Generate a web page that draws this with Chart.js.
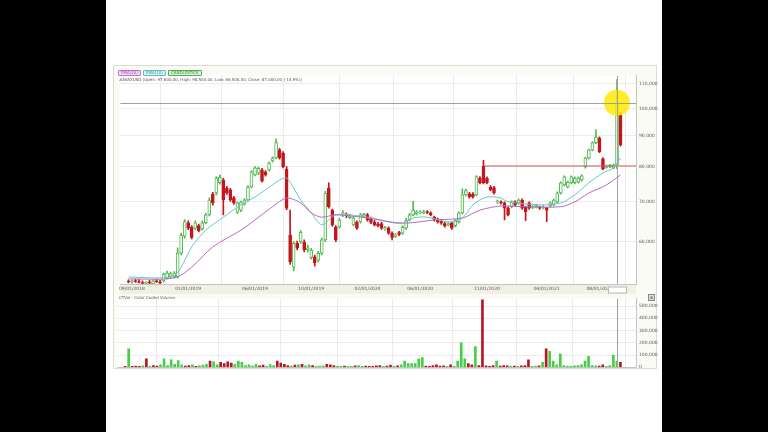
<!DOCTYPE html>
<html>
<head>
<meta charset="utf-8">
<script src="https://cdn.jsdelivr.net/npm/chart.js@4.4.1/dist/chart.umd.min.js"></script>
<style>
    html, body { margin: 0; padding: 0; width: 768px; height: 432px; background: #000; overflow: hidden; font-family: "DejaVu Sans", sans-serif; }
    #page { position: absolute; left: 106px; top: 0; width: 556px; height: 432px; background: #fff; }
    #frame { position: absolute; left: 113px; top: 65px; width: 542px; height: 302px; border: 1px solid #dcdcd2; background: #fbfbf6; }
    #price { position: absolute; left: 117px; top: 70px; }
    #volume { position: absolute; left: 117px; top: 293px; }
    #legend { position: absolute; left: 118px; top: 70px; font-size: 4px; line-height: 4px; white-space: nowrap; }
    #legend span { display: inline-block; padding: 0 2px; margin-right: 2px; border: 1px solid; border-radius: 1px; }
    #ohlc { position: absolute; left: 119px; top: 77px; font-size: 4px; color: #555; white-space: nowrap; }
    #voltitle { position: absolute; left: 119px; top: 295px; font-size: 4px; color: #666; white-space: nowrap; }
    #closebox { position: absolute; left: 648px; top: 294px; width: 5px; height: 5px; border: 1px solid #888; background: #ddd; font-size: 5px; line-height: 5px; text-align: center; color: #333; }
</style>
</head>
<body>
<div id="page"></div>
<div id="frame"></div>
<canvas id="price" width="543" height="224"></canvas>
<canvas id="volume" width="543" height="80"></canvas>
<div id="legend"></div>
<div id="ohlc"></div>
<div id="voltitle">CTVol - Color Coded Volume</div>
<div id="closebox">x</div>
<script>
"use strict";

let Chart = window.Chart;

// prices in thousands, one weekly candle per entry
const openK = [51.5, 51.4, 51.6, 51.5, 51.3, 51.1, 51.4, 51.0, 51.6, 51.4,
    51.6, 52.2, 52.5, 52.4, 52.4, 57.4, 61.3, 64.5, 63.4, 63.2,
    63.8, 63.0, 64.5, 66.5, 72.0, 72.3, 75.2, 76.0, 73.7, 73.2,
    71.0, 67.2, 67.7, 69.3, 70.4, 74.0, 77.5, 78.0, 79.0, 78.4,
    79.0, 81.8, 82.7, 85.3, 84.3, 79.2, 61.5, 54.4, 59.6, 60.0,
    59.9, 58.2, 56.5, 56.6, 55.9, 57.4, 60.4, 73.7, 67.7, 63.4,
    63.5, 66.6, 66.6, 65.8, 64.0, 64.7, 64.7, 66.2, 66.5, 65.5,
    64.7, 64.2, 64.3, 63.0, 63.2, 62.0, 61.2, 62.1, 62.0, 63.2,
    65.2, 66.5, 66.8, 67.0, 67.0, 67.3, 67.0, 65.9, 65.4, 65.0,
    64.3, 64.0, 64.4, 63.8, 64.7, 67.0, 71.8, 72.1, 72.0, 71.8,
    76.6, 80.2, 76.5, 74.0, 73.8, 69.9, 69.8, 69.6, 68.3, 68.6,
    69.9, 69.6, 70.4, 68.5, 69.6, 68.4, 68.6, 68.5, 68.3, 68.2,
    68.8, 69.1, 69.9, 72.3, 74.6, 74.0, 75.2, 75.2, 75.4, 76.0,
    80.0, 82.7, 85.3, 87.7, 89.3, 82.4, 79.8, 80.0, 79.6, 80.5,
    97.6];
const highK = [51.8, 51.8, 51.9, 51.9, 51.6, 51.5, 51.7, 51.8, 51.9, 51.7,
    53.2, 53.6, 53.4, 53.5, 58.6, 62.0, 65.3, 65.0, 63.8, 65.0,
    64.2, 64.9, 66.9, 71.0, 72.5, 77.0, 77.5, 76.5, 74.2, 73.6,
    71.4, 69.9, 70.1, 70.8, 74.4, 78.8, 80.0, 79.9, 79.5, 78.8,
    81.5, 83.1, 89.0, 85.8, 84.8, 80.0, 67.7, 60.0, 60.1, 62.6,
    60.4, 59.2, 58.5, 57.0, 57.8, 60.8, 72.8, 75.2, 68.0, 63.8,
    65.6, 67.6, 67.0, 66.6, 66.1, 65.0, 66.9, 66.9, 66.9, 65.9,
    65.1, 64.6, 64.7, 63.6, 63.5, 62.3, 61.9, 62.4, 63.8, 65.6,
    66.9, 70.0, 67.6, 67.6, 67.7, 67.6, 67.3, 66.2, 65.7, 65.3,
    64.6, 64.6, 64.7, 65.3, 67.3, 73.5, 73.4, 72.5, 72.4, 77.3,
    77.0, 82.0, 76.9, 74.4, 74.2, 70.4, 70.2, 69.9, 68.6, 70.2,
    70.2, 70.7, 70.7, 68.8, 69.9, 68.9, 69.3, 68.8, 68.9, 68.5,
    69.9, 70.7, 72.6, 75.5, 77.2, 75.7, 77.2, 76.9, 76.9, 77.5,
    83.0, 85.6, 88.0, 92.1, 89.7, 82.8, 80.5, 80.7, 80.8, 111.7,
    98.5];
const lowK = [51.2, 51.1, 51.3, 51.2, 50.9, 50.9, 51.0, 50.8, 51.3, 51.0,
    51.4, 52.0, 52.3, 52.2, 52.2, 57.0, 60.8, 62.8, 60.6, 62.8,
    62.3, 62.7, 64.2, 66.2, 69.0, 71.8, 74.8, 66.5, 71.9, 70.0,
    69.2, 66.8, 67.3, 69.0, 70.1, 73.7, 77.2, 77.6, 75.4, 77.1,
    78.6, 81.4, 82.4, 82.3, 79.6, 67.8, 55.0, 53.6, 58.1, 59.6,
    57.7, 57.6, 56.1, 54.6, 55.5, 57.0, 60.0, 68.2, 63.6, 60.0,
    63.2, 66.0, 65.8, 65.5, 63.7, 62.9, 64.4, 65.9, 64.9, 64.3,
    63.7, 63.5, 62.9, 62.7, 61.7, 60.4, 60.9, 61.4, 61.7, 62.9,
    64.9, 66.2, 66.5, 66.7, 66.7, 66.8, 66.2, 64.9, 64.4, 64.1,
    63.4, 63.7, 62.9, 63.5, 64.4, 66.7, 71.5, 70.9, 70.9, 71.5,
    74.9, 74.9, 74.9, 72.9, 72.0, 69.5, 69.3, 65.2, 66.2, 68.3,
    68.8, 69.3, 67.9, 65.0, 67.9, 68.1, 68.3, 67.9, 68.0, 64.8,
    68.5, 68.8, 69.6, 72.0, 74.3, 73.7, 74.9, 74.9, 75.1, 75.7,
    79.5, 82.4, 85.0, 87.4, 84.4, 79.0, 79.5, 79.7, 79.3, 79.4,
    86.5];
const closeK = [51.4, 51.6, 51.5, 51.3, 51.1, 51.4, 51.2, 51.6, 51.4, 51.2,
    53.0, 53.2, 53.1, 53.2, 57.4, 61.5, 64.8, 63.2, 61.0, 64.5,
    62.6, 64.5, 66.5, 70.4, 69.6, 76.6, 76.8, 70.4, 72.3, 70.4,
    69.6, 69.6, 69.8, 70.4, 74.0, 78.4, 79.6, 79.5, 75.7, 77.5,
    81.1, 82.7, 87.7, 82.7, 80.0, 68.2, 55.5, 59.6, 58.5, 62.2,
    58.1, 58.6, 58.1, 55.3, 57.4, 60.4, 72.3, 68.6, 64.0, 60.4,
    65.2, 67.0, 66.3, 66.2, 65.7, 63.2, 66.5, 66.6, 65.2, 64.6,
    64.0, 63.8, 63.2, 63.3, 62.0, 61.0, 61.6, 61.7, 63.4, 65.2,
    66.5, 67.7, 67.2, 67.2, 67.3, 67.1, 66.5, 65.2, 64.7, 64.4,
    63.7, 64.3, 63.2, 65.0, 67.0, 71.8, 73.0, 71.2, 71.2, 76.9,
    75.2, 75.2, 75.2, 73.2, 72.3, 70.1, 69.6, 68.2, 66.5, 69.9,
    69.1, 70.4, 68.2, 67.3, 68.2, 68.6, 69.0, 68.2, 68.6, 67.7,
    69.6, 70.4, 72.3, 75.2, 76.9, 75.4, 76.9, 76.6, 76.6, 77.2,
    82.7, 85.3, 87.7, 89.6, 84.7, 79.3, 80.2, 80.4, 80.5, 102.2,
    87.0];
// volume in thousands
const volumeK = [8, 150, 5, 10, 6, 12, 70, 8, 15, 10,
    20, 70, 15, 60, 25, 55, 20, 10, 15, 20,
    8, 12, 18, 25, 50, 45, 20, 40, 30, 45,
    35, 25, 50, 40, 15, 20, 10, 25, 12, 18,
    8, 22, 15, 50, 35, 25, 15, 10, 18, 20,
    25, 12, 20, 15, 8, 10, 12, 25, 20, 15,
    8, 6, 10, 5, 8, 12, 15, 6, 10, 8,
    5, 12, 15, 6, 10, 18, 8, 12, 20, 50,
    30, 30, 30, 70, 80, 10, 6, 15, 20, 10,
    12, 5, 20, 8, 50, 200, 70, 30, 20, 170,
    15, 550, 12, 8, 15, 50, 10, 15, 12, 6,
    10, 5, 12, 15, 60, 8, 10, 12, 40, 150,
    130, 50, 20, 110, 15, 10, 8, 12, 15, 20,
    50, 90, 15, 12, 10, 20, 8, 15, 100, 50,
    40];

// moving averages read at a few candles
const emaFastIdx = [0, 10, 13, 15, 18, 22, 27, 32, 36, 40, 43, 45, 47, 49, 52, 55, 59, 68, 74, 78,
    81, 85, 91, 95, 98, 102, 106, 108, 117, 123, 127, 131, 135, 138, 140];
const emaFast = [52.4, 52.2, 52.7, 54.4, 58.8, 62.7, 65.9, 69.1, 71.2, 73.9, 76.0, 76.6, 73.7, 70.4, 67.0, 64.0, 66.5, 65.9, 64.7, 64.4,
    65.7, 65.9, 64.7, 65.7, 69.1, 71.2, 70.9, 69.9, 69.1, 69.6, 71.8, 75.2, 78.1, 79.6, 82.7];
const emaSlowIdx = [0, 13, 18, 24, 32, 36, 41, 45, 49, 52, 55, 59, 68, 78, 87, 95, 100, 106, 112, 123,
    127, 131, 136, 140];
const emaSlow = [52.0, 52.2, 54.4, 58.8, 62.7, 65.2, 68.6, 70.9, 69.6, 67.0, 65.9, 66.5, 65.7, 64.4, 65.2, 65.7, 67.7, 68.8, 68.6, 68.6,
    69.9, 72.3, 74.6, 77.5];

const levelStart = 101;
const levelK = 80.2;
const cursorIdx = 139;

const dateIdx = [1, 17, 36, 52, 68, 83, 102, 119, 134];
const dateLabels = ['09/01/2018', '01/01/2019', '06/01/2019', '10/01/2019', '02/01/2020',
    '06/01/2020', '11/01/2020', '04/01/2021', '08/01/2021'];
const priceTicks = [60, 70, 80, 90, 100, 110];
const volumeTicks = [0, 100, 200, 300, 400, 500];

const xMin = -2.3;
const xMax = 144.4;
const upLine = '#52b852';
const upFill = '#f6fff4';
const downCol = '#c4161c';
const gridCol = '#ebebeb';
const tickFont = { size: 4.5, family: 'DejaVu Sans' };

function fmt(v) {
    return (v * 1000).toLocaleString('en-US');
}

function isUp(i) {
    return closeK[i] >= openK[i];
}

// header: legend items and last candle values
document.getElementById('legend').innerHTML =
    '<span style="border-color:#c070c8;background:#f3dcf5;color:#a050a8">EMA(20)</span>' +
    '<span style="border-color:#60c0c0;background:#dcf3f3;color:#409898">EMA(10)</span>' +
    '<span style="border-color:#50b050;background:#dff3dc;color:#308830">CANDLESTICK</span>';
(function () {
    const n = closeK.length - 1;
    const pct = (closeK[n] - closeK[n - 1]) / closeK[n - 1] * 100;
    const f2 = v => (v * 1000).toLocaleString('en-US', { minimumFractionDigits: 2 });
    document.getElementById('ohlc').textContent = '#AVAXUSD (Open: ' + f2(openK[n]) + ', High: ' + f2(highK[n]) +
        ', Low: ' + f2(lowK[n]) + ', Close: ' + f2(closeK[n]) + ' (' + pct.toFixed(1) + '%))';
})();

const bandPlugin = {
    id: 'band',
    beforeDraw(chart) {
        const a = chart.chartArea, ctx = chart.ctx;
        ctx.save();
        ctx.fillStyle = '#ffffff';
        ctx.fillRect(a.left, a.top, a.right - a.left, a.bottom - a.top);
        if (chart.canvas.id === 'price') {
            ctx.fillStyle = '#f2f0e4';
            ctx.fillRect(a.left, a.bottom, a.right - a.left, 10);
        }
        ctx.restore();
    },
    afterDatasetsDraw(chart) {
        const a = chart.chartArea, ctx = chart.ctx;
        const xp = Math.round(chart.scales.x.getPixelForValue(cursorIdx)) + 0.5;
        ctx.save();
        ctx.strokeStyle = '#a0a0a0';
        ctx.lineWidth = 1;
        ctx.beginPath();
        ctx.moveTo(xp, a.top);
        ctx.lineTo(xp, a.bottom);
        if (chart.canvas.id === 'price') {
            const yp = Math.round(chart.scales.y.getPixelForValue(closeK[cursorIdx])) + 0.5;
            ctx.moveTo(a.left, yp);
            ctx.lineTo(a.right, yp);
            ctx.stroke();
            ctx.fillStyle = '#ffffff';
            ctx.strokeStyle = '#b8b8b8';
            ctx.fillRect(xp - 9, a.bottom + 3, 18, 6);
            ctx.strokeRect(xp - 9, a.bottom + 3, 18, 6);
        } else {
            ctx.stroke();
        }
        ctx.restore();
    }
};

function xScale(showTicks) {
    return {
        type: 'linear',
        min: xMin,
        max: xMax,
        offset: false,
        afterBuildTicks: s => { s.ticks = dateIdx.map(v => ({ value: v })); },
        afterFit: s => { s.height = showTicks ? 10 : 2; },
        ticks: {
            display: showTicks,
            autoSkip: false,
            maxRotation: 0,
            font: tickFont,
            color: '#555',
            padding: 2,
            callback: (v, i) => dateLabels[i]
        },
        grid: { color: gridCol, drawTicks: false },
        border: { color: '#c4c4c4' }
    };
}

const idx = openK.map((o, i) => i);

new Chart(document.getElementById('price'), {
    type: 'bar',
    data: {
        datasets: [
            {
                type: 'line',
                data: [{ x: cursorIdx, y: closeK[cursorIdx] }],
                showLine: false,
                pointRadius: 13,
                pointBackgroundColor: 'rgba(255, 234, 0, 0.85)',
                pointBorderWidth: 0,
                order: 0
            },
            {
                type: 'line',
                data: emaSlowIdx.map((x, i) => ({ x, y: emaSlow[i] })),
                borderColor: '#b86cc0',
                borderWidth: 1,
                pointRadius: 0,
                tension: 0.3,
                order: 1
            },
            {
                type: 'line',
                data: emaFastIdx.map((x, i) => ({ x, y: emaFast[i] })),
                borderColor: '#6cc6c6',
                borderWidth: 1,
                pointRadius: 0,
                tension: 0.3,
                order: 1
            },
            {
                type: 'line',
                data: [{ x: levelStart, y: levelK }, { x: xMax, y: levelK }],
                borderColor: '#c85a5a',
                borderWidth: 1,
                pointRadius: 0,
                order: 1
            },
            {
                data: idx.map(i => ({ x: i, y: [openK[i], closeK[i]] })),
                backgroundColor: idx.map(i => isUp(i) ? upFill : downCol),
                borderColor: idx.map(i => isUp(i) ? upLine : downCol),
                borderWidth: 1,
                borderSkipped: false,
                barThickness: 3,
                minBarLength: 1,
                grouped: false,
                order: 2
            },
            {
                data: idx.map(i => ({ x: i, y: [lowK[i], highK[i]] })),
                backgroundColor: idx.map(i => isUp(i) ? upLine : downCol),
                borderWidth: 0,
                barThickness: 1,
                grouped: false,
                order: 3
            }
        ]
    },
    options: {
        responsive: false,
        animation: false,
        layout: { padding: 0, autoPadding: false },
        plugins: { legend: { display: false }, tooltip: { enabled: false } },
        scales: {
            x: xScale(true),
            y: {
                type: 'logarithmic',
                position: 'right',
                min: 51.0,
                max: 113.4,
                afterBuildTicks: s => { s.ticks = priceTicks.map(v => ({ value: v })); },
                afterFit: s => { s.width = 24; },
                ticks: { font: tickFont, color: '#555', padding: 3, callback: (v, i) => fmt(priceTicks[i]) },
                grid: { color: gridCol, drawTicks: false },
                border: { color: '#c4c4c4' }
            }
        }
    },
    plugins: [bandPlugin]
});

new Chart(document.getElementById('volume'), {
    type: 'bar',
    data: {
        datasets: [{
            data: idx.map(i => ({ x: i, y: volumeK[i] })),
            backgroundColor: idx.map(i => isUp(i) ? '#45cf45' : '#b81620'),
            barThickness: 2,
            minBarLength: 1
        }]
    },
    options: {
        responsive: false,
        animation: false,
        layout: { padding: { top: 4 }, autoPadding: false },
        plugins: { legend: { display: false }, tooltip: { enabled: false } },
        scales: {
            x: xScale(false),
            y: {
                position: 'right',
                min: 0,
                max: 560,
                afterBuildTicks: s => { s.ticks = volumeTicks.map(v => ({ value: v })); },
                afterFit: s => { s.width = 24; },
                ticks: { font: tickFont, color: '#555', padding: 3, callback: (v, i) => fmt(volumeTicks[i]) },
                grid: { color: gridCol, drawTicks: false },
                border: { color: '#c4c4c4' }
            }
        }
    },
    plugins: [bandPlugin]
});
</script>
</body>
</html>
